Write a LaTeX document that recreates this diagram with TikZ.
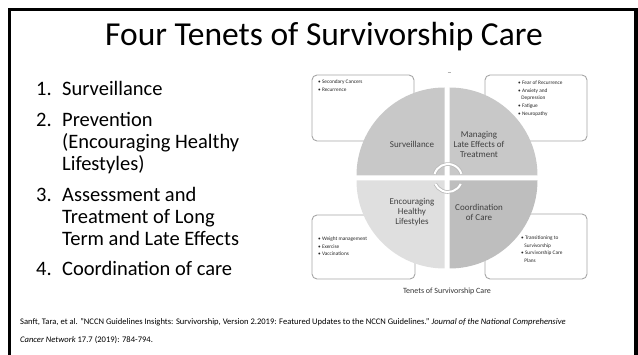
\documentclass[tikz,border=0pt]{standalone}
\usepackage{fontspec}
\setmainfont{Carlito}
\usepackage{xcolor}
\usetikzlibrary{positioning}

\definecolor{quaddark}{HTML}{C8C8C8}
\definecolor{quadlight}{HTML}{DFDFDF}
\definecolor{boxline}{HTML}{A6A6A6}
\definecolor{labeltext}{HTML}{404040}

\begin{document}
\begin{tikzpicture}[x=1pt, y=-1pt,
    every node/.style={inner sep=0pt},
    listitem/.style={anchor=north west, align=left, font=\fontsize{20.5}{22}\selectfont},
    notebox/.style={draw=boxline, line width=0.9pt, fill=white, rounded corners=5pt},
    notetext/.style={anchor=north west, align=left, text=black!85, font=\fontsize{5.3}{7.8}\selectfont},
    quadlabel/.style={align=center, text=labeltext, font=\fontsize{9}{10}\selectfont},
    cyclearc/.style={line width=3.6pt, draw=gray!55}]
    \useasboundingbox (0,0) rectangle (638,355);

    % slide frame, open at the bottom
    \draw[line width=3.6pt] (9.5,360) -- (9.5,9.5) -- (636,9.5) -- (636,360);

    \node[anchor=base, font=\fontsize{33.5}{36}\selectfont] (title) at (324,45.5) {Four Tenets of Survivorship Care};

    % numbered list on the left (tops of the struts of the first lines)
    \node[listitem] (num1) at (36,79.5) {\strut 1.};
    \node[listitem] (item1) at (62,79.5) {\strut Surveillance};
    \node[listitem] (num2) at (36,110.5) {\strut 2.};
    \node[listitem] (item2) at (62,110.5) {\strut Prevention\\(Encouraging Healthy\\Lifestyles)};
    \node[listitem] (num3) at (36,185.5) {\strut 3.};
    \node[listitem] (item3) at (62,185.5) {\strut Assessment and\\Treatment of Long\\Term and Late Effects};
    \node[listitem] (num4) at (36,259.5) {\strut 4.};
    \node[listitem] (item4) at (62,259.5) {\strut Coordination of care};

    % boxes behind the circle
    \draw[notebox] (312,75) rectangle (414,141);
    \draw[notebox] (485,75) rectangle (587,141);
    \draw[notebox] (312,215) rectangle (415,279);
    \draw[notebox] (485,214) rectangle (587,279);

    \node[notetext] (tlnotes) at (318,79.5) {\textbullet\ Secondary Cancers\\\textbullet\ Recurrence};
    \node[notetext] (trnotes) at (518,80.5) {\textbullet\ Fear of Recurrence\\\textbullet\ Anxiety and\\\hspace*{3.2pt}Depression\\\textbullet\ Fatigue\\\textbullet\ Neuropathy};
    \node[notetext] (blnotes) at (318,236.5) {\textbullet\ Weight management\\\textbullet\ Exercise\\\textbullet\ Vaccinations};
    \node[notetext] (brnotes) at (521,235.5) {\textbullet\ Transitioning to\\\hspace*{3.2pt}Survivorship\\\textbullet\ Survivorship Care\\\hspace*{3.2pt}Plans};

    \draw[gray!60, line width=0.6pt] (447.5,72) -- (450.5,72);

    % four quadrants
    \fill[quaddark] (444.5,175.5) -- +(180:88) arc[start angle=180, end angle=270, radius=88] -- cycle;
    \fill[quaddark] (449.5,175.5) -- +(270:88) arc[start angle=270, end angle=360, radius=88] -- cycle;
    \fill[quaddark!95!black] (449.5,180.5) -- +(0:88) arc[start angle=0, end angle=90, radius=88] -- cycle;
    \fill[quadlight] (444.5,180.5) -- +(90:88) arc[start angle=90, end angle=180, radius=88] -- cycle;

    % cycle arrows at the centre
    \coordinate (hub) at (448,178);
    \draw[cyclearc] (hub) ++(197:14) arc[start angle=197, end angle=343, radius=14];
    \draw[white, line width=2pt] (hub) ++(197:14) arc[start angle=197, end angle=343, radius=14];
    \draw[cyclearc] (hub) ++(25:14) arc[start angle=25, end angle=155, radius=14];
    \draw[white, line width=2pt] (hub) ++(25:14) arc[start angle=25, end angle=155, radius=14];

    \node[quadlabel] (surv) at (412,144) {Surveillance};
    \node[quadlabel] (late) at (479,144) {Managing\\Late Effects of\\Treatment};
    \node[quadlabel] (healthy) at (412,212) {Encouraging\\Healthy\\Lifestyles};
    \node[quadlabel] (coord) at (479,212) {Coordination\\of Care};

    \node[text=black!80, font=\fontsize{8}{9}\selectfont] (caption) at (447,291) {Tenets of Survivorship Care};

    \node[anchor=north west, align=left, font=\fontsize{8.55}{18}\selectfont] (source) at (20,318.5)
        {Sanft, Tara, et al. "NCCN Guidelines Insights: Survivorship, Version 2.2019: Featured Updates to the NCCN Guidelines." \textit{Journal of the National Comprehensive}\\\textit{Cancer Network} 17.7 (2019): 784-794.};
\end{tikzpicture}
\end{document}
